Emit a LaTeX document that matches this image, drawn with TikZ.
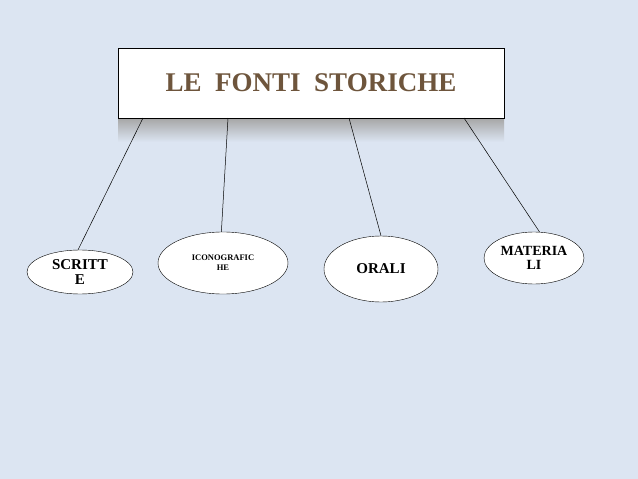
\documentclass[tikz,border=0pt]{standalone}
\usepackage{fontspec}
\setmainfont{Liberation Serif}
\usetikzlibrary{shapes.geometric}
\definecolor{bgblue}{RGB}{220,229,242}
\definecolor{titlebrown}{RGB}{110,85,60}
\tikzset{
  fonte/.style={ellipse, draw, fill=white, inner sep=0pt, align=center, font=\bfseries},
  link/.style={draw, line width=0.5pt}
}
\begin{document}
\begin{tikzpicture}[x=1pt, y=-1pt]
        \fill[bgblue] (0,0) rectangle (638,479);
        \useasboundingbox (0,0) rectangle (638,479);
        % riflesso sotto il titolo
        \shade[top color=gray!70, bottom color=bgblue] (118,118) rectangle (504,142);

        \node[draw, fill=white, minimum width=386pt, minimum height=70pt, font=\bfseries\fontsize{27}{30}\selectfont, text=titlebrown] (title) at (311,83) {LE\ \ FONTI\ \ STORICHE};

        \node[fonte, minimum width=106pt, minimum height=44pt, font=\bfseries\fontsize{15}{15}\selectfont] (scritte) at (80,272) {SCRITT\\E};
        \node[fonte, minimum width=130pt, minimum height=62pt, font=\bfseries\fontsize{8.5}{10}\selectfont] (icono) at (223,263) {ICONOGRAFIC\\HE};
        \node[fonte, minimum width=114pt, minimum height=66pt, font=\bfseries\fontsize{15}{15}\selectfont] (orali) at (381,269) {ORALI};
        \node[fonte, minimum width=100pt, minimum height=52pt, font=\bfseries\fontsize{14}{14}\selectfont] (materiali) at (534,258) {MATERIA\\LI};

        \coordinate (a1) at (143,118);
        \coordinate (a2) at (228,118);
        \coordinate (a3) at (349,118);
        \coordinate (a4) at (464,118);

        \path[link] (a1) -- (scritte.95);
        \path[link] (a2) -- (icono.93);
        \path[link] (a3) -- (orali.90);
        \path[link] (a4) -- (materiali.78);
\end{tikzpicture}
\end{document}
